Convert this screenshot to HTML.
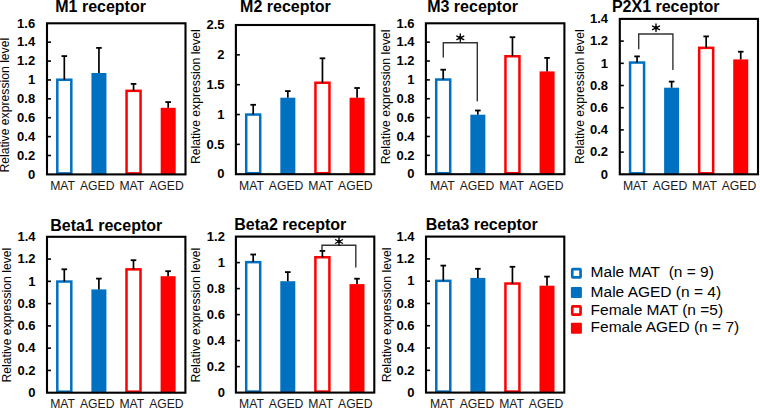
<!DOCTYPE html>
<html><head><meta charset="utf-8"><style>
html,body{margin:0;padding:0;background:#fff;}
svg{display:block;font-family:'Liberation Sans', sans-serif;}
</style></head><body>
<svg width="760" height="409" viewBox="0 0 760 409">
<rect width="760" height="409" fill="#fff"/>
<text x="55.25" y="12.00" font-size="16" font-weight="bold">M1 receptor</text>
<text transform="translate(9.00,105.20) rotate(-90)" text-anchor="middle" font-size="12.2">Relative expression level</text>
<text x="35.20" y="178.60" text-anchor="end" font-size="13" font-weight="bold">0</text>
<line x1="47" y1="155.51" x2="51" y2="155.51" stroke="#000" stroke-width="1.6"/>
<text x="35.20" y="159.71" text-anchor="end" font-size="13" font-weight="bold">0.2</text>
<line x1="47" y1="136.62" x2="51" y2="136.62" stroke="#000" stroke-width="1.6"/>
<text x="35.20" y="140.82" text-anchor="end" font-size="13" font-weight="bold">0.4</text>
<line x1="47" y1="117.74" x2="51" y2="117.74" stroke="#000" stroke-width="1.6"/>
<text x="35.20" y="121.94" text-anchor="end" font-size="13" font-weight="bold">0.6</text>
<line x1="47" y1="98.85" x2="51" y2="98.85" stroke="#000" stroke-width="1.6"/>
<text x="35.20" y="103.05" text-anchor="end" font-size="13" font-weight="bold">0.8</text>
<line x1="47" y1="79.96" x2="51" y2="79.96" stroke="#000" stroke-width="1.6"/>
<text x="35.20" y="84.16" text-anchor="end" font-size="13" font-weight="bold">1</text>
<line x1="47" y1="61.08" x2="51" y2="61.08" stroke="#000" stroke-width="1.6"/>
<text x="35.20" y="65.28" text-anchor="end" font-size="13" font-weight="bold">1.2</text>
<line x1="47" y1="42.19" x2="51" y2="42.19" stroke="#000" stroke-width="1.6"/>
<text x="35.20" y="46.39" text-anchor="end" font-size="13" font-weight="bold">1.4</text>
<text x="35.20" y="27.50" text-anchor="end" font-size="13" font-weight="bold">1.6</text>
<rect x="57.31" y="79.75" width="14.0" height="93.65" fill="#fff" stroke="#0070C0" stroke-width="2.5"/>
<line x1="64.31" y1="79.75" x2="64.31" y2="56.10" stroke="#000" stroke-width="1.7"/>
<line x1="61.51" y1="56.10" x2="67.11" y2="56.10" stroke="#000" stroke-width="1.8"/>
<text x="62.61" y="190.20" text-anchor="middle" font-size="12.2" fill="#1a1a1a">MAT</text>
<rect x="91.44" y="73.00" width="15.0" height="101.40" fill="#0070C0"/>
<line x1="98.94" y1="73.00" x2="98.94" y2="47.90" stroke="#000" stroke-width="1.7"/>
<line x1="96.14" y1="47.90" x2="101.74" y2="47.90" stroke="#000" stroke-width="1.8"/>
<text x="97.24" y="190.20" text-anchor="middle" font-size="12.2" fill="#1a1a1a">AGED</text>
<rect x="126.56" y="90.85" width="14.0" height="82.55" fill="#fff" stroke="#FF0000" stroke-width="2.5"/>
<line x1="133.56" y1="90.85" x2="133.56" y2="83.90" stroke="#000" stroke-width="1.7"/>
<line x1="130.76" y1="83.90" x2="136.36" y2="83.90" stroke="#000" stroke-width="1.8"/>
<text x="131.86" y="190.20" text-anchor="middle" font-size="12.2" fill="#1a1a1a">MAT</text>
<rect x="160.69" y="107.80" width="15.0" height="66.60" fill="#FF0000"/>
<line x1="168.19" y1="107.80" x2="168.19" y2="102.10" stroke="#000" stroke-width="1.7"/>
<line x1="165.39" y1="102.10" x2="170.99" y2="102.10" stroke="#000" stroke-width="1.8"/>
<text x="166.49" y="190.20" text-anchor="middle" font-size="12.2" fill="#1a1a1a">AGED</text>
<rect x="47" y="23.3" width="138.50" height="151.10" fill="none" stroke="#000" stroke-width="2.1"/>
<text x="240.10" y="11.90" font-size="16" font-weight="bold">M2 receptor</text>
<text transform="translate(199.90,96.70) rotate(-90)" text-anchor="middle" font-size="12.2">Relative expression level</text>
<text x="224.60" y="178.40" text-anchor="end" font-size="13" font-weight="bold">0</text>
<line x1="235.9" y1="144.36" x2="239.9" y2="144.36" stroke="#000" stroke-width="1.6"/>
<text x="224.60" y="148.56" text-anchor="end" font-size="13" font-weight="bold">0.5</text>
<line x1="235.9" y1="114.52" x2="239.9" y2="114.52" stroke="#000" stroke-width="1.6"/>
<text x="224.60" y="118.72" text-anchor="end" font-size="13" font-weight="bold">1</text>
<line x1="235.9" y1="84.68" x2="239.9" y2="84.68" stroke="#000" stroke-width="1.6"/>
<text x="224.60" y="88.88" text-anchor="end" font-size="13" font-weight="bold">1.5</text>
<line x1="235.9" y1="54.84" x2="239.9" y2="54.84" stroke="#000" stroke-width="1.6"/>
<text x="224.60" y="59.04" text-anchor="end" font-size="13" font-weight="bold">2</text>
<text x="224.60" y="29.20" text-anchor="end" font-size="13" font-weight="bold">2.5</text>
<rect x="246.21" y="114.55" width="14.0" height="58.65" fill="#fff" stroke="#0070C0" stroke-width="2.5"/>
<line x1="253.21" y1="114.55" x2="253.21" y2="104.80" stroke="#000" stroke-width="1.7"/>
<line x1="250.41" y1="104.80" x2="256.01" y2="104.80" stroke="#000" stroke-width="1.8"/>
<text x="251.51" y="190.20" text-anchor="middle" font-size="12.2" fill="#1a1a1a">MAT</text>
<rect x="280.34" y="97.70" width="15.0" height="76.50" fill="#0070C0"/>
<line x1="287.84" y1="97.70" x2="287.84" y2="91.10" stroke="#000" stroke-width="1.7"/>
<line x1="285.04" y1="91.10" x2="290.64" y2="91.10" stroke="#000" stroke-width="1.8"/>
<text x="286.14" y="190.20" text-anchor="middle" font-size="12.2" fill="#1a1a1a">AGED</text>
<rect x="315.46" y="82.75" width="14.0" height="90.45" fill="#fff" stroke="#FF0000" stroke-width="2.5"/>
<line x1="322.46" y1="82.75" x2="322.46" y2="58.30" stroke="#000" stroke-width="1.7"/>
<line x1="319.66" y1="58.30" x2="325.26" y2="58.30" stroke="#000" stroke-width="1.8"/>
<text x="320.76" y="190.20" text-anchor="middle" font-size="12.2" fill="#1a1a1a">MAT</text>
<rect x="349.59" y="97.70" width="15.0" height="76.50" fill="#FF0000"/>
<line x1="357.09" y1="97.70" x2="357.09" y2="88.00" stroke="#000" stroke-width="1.7"/>
<line x1="354.29" y1="88.00" x2="359.89" y2="88.00" stroke="#000" stroke-width="1.8"/>
<text x="355.39" y="190.20" text-anchor="middle" font-size="12.2" fill="#1a1a1a">AGED</text>
<rect x="235.9" y="25" width="138.50" height="149.20" fill="none" stroke="#000" stroke-width="2.1"/>
<text x="427.20" y="11.90" font-size="16" font-weight="bold">M3 receptor</text>
<text transform="translate(390.00,96.85) rotate(-90)" text-anchor="middle" font-size="12.2">Relative expression level</text>
<text x="414.50" y="178.40" text-anchor="end" font-size="13" font-weight="bold">0</text>
<line x1="425.9" y1="155.34" x2="429.9" y2="155.34" stroke="#000" stroke-width="1.6"/>
<text x="414.50" y="159.54" text-anchor="end" font-size="13" font-weight="bold">0.2</text>
<line x1="425.9" y1="136.47" x2="429.9" y2="136.47" stroke="#000" stroke-width="1.6"/>
<text x="414.50" y="140.67" text-anchor="end" font-size="13" font-weight="bold">0.4</text>
<line x1="425.9" y1="117.61" x2="429.9" y2="117.61" stroke="#000" stroke-width="1.6"/>
<text x="414.50" y="121.81" text-anchor="end" font-size="13" font-weight="bold">0.6</text>
<line x1="425.9" y1="98.75" x2="429.9" y2="98.75" stroke="#000" stroke-width="1.6"/>
<text x="414.50" y="102.95" text-anchor="end" font-size="13" font-weight="bold">0.8</text>
<line x1="425.9" y1="79.89" x2="429.9" y2="79.89" stroke="#000" stroke-width="1.6"/>
<text x="414.50" y="84.09" text-anchor="end" font-size="13" font-weight="bold">1</text>
<line x1="425.9" y1="61.02" x2="429.9" y2="61.02" stroke="#000" stroke-width="1.6"/>
<text x="414.50" y="65.22" text-anchor="end" font-size="13" font-weight="bold">1.2</text>
<line x1="425.9" y1="42.16" x2="429.9" y2="42.16" stroke="#000" stroke-width="1.6"/>
<text x="414.50" y="46.36" text-anchor="end" font-size="13" font-weight="bold">1.4</text>
<text x="414.50" y="27.50" text-anchor="end" font-size="13" font-weight="bold">1.6</text>
<rect x="436.21" y="79.55" width="14.0" height="93.65" fill="#fff" stroke="#0070C0" stroke-width="2.5"/>
<line x1="443.21" y1="79.55" x2="443.21" y2="69.70" stroke="#000" stroke-width="1.7"/>
<line x1="440.41" y1="69.70" x2="446.01" y2="69.70" stroke="#000" stroke-width="1.8"/>
<text x="442.31" y="190.20" text-anchor="middle" font-size="12.2" fill="#1a1a1a">MAT</text>
<rect x="470.34" y="114.70" width="15.0" height="59.50" fill="#0070C0"/>
<line x1="477.84" y1="114.70" x2="477.84" y2="110.50" stroke="#000" stroke-width="1.7"/>
<line x1="475.04" y1="110.50" x2="480.64" y2="110.50" stroke="#000" stroke-width="1.8"/>
<text x="476.94" y="190.20" text-anchor="middle" font-size="12.2" fill="#1a1a1a">AGED</text>
<rect x="505.46" y="56.25" width="14.0" height="116.95" fill="#fff" stroke="#FF0000" stroke-width="2.5"/>
<line x1="512.46" y1="56.25" x2="512.46" y2="37.20" stroke="#000" stroke-width="1.7"/>
<line x1="509.66" y1="37.20" x2="515.26" y2="37.20" stroke="#000" stroke-width="1.8"/>
<text x="511.56" y="190.20" text-anchor="middle" font-size="12.2" fill="#1a1a1a">MAT</text>
<rect x="539.59" y="71.40" width="15.0" height="102.80" fill="#FF0000"/>
<line x1="547.09" y1="71.40" x2="547.09" y2="57.90" stroke="#000" stroke-width="1.7"/>
<line x1="544.29" y1="57.90" x2="549.89" y2="57.90" stroke="#000" stroke-width="1.8"/>
<text x="546.19" y="190.20" text-anchor="middle" font-size="12.2" fill="#1a1a1a">AGED</text>
<rect x="425.9" y="23.3" width="138.50" height="150.90" fill="none" stroke="#000" stroke-width="2.1"/>
<polyline points="443.3,57.6 443.3,42.8 477.3,42.8 477.3,101.2" fill="none" stroke="#333" stroke-width="1.4"/>
<path d="M460.30,34.00L460.30,41.60M456.83,36.03L463.77,39.57M463.77,36.03L456.83,39.57" stroke="#000" stroke-width="1.35" stroke-linecap="round"/>
<circle cx="460.3" cy="37.8" r="1.7" fill="#000"/>
<text x="611.90" y="11.80" font-size="16" font-weight="bold">P2X1 receptor</text>
<text transform="translate(583.90,96.70) rotate(-90)" text-anchor="middle" font-size="12.2">Relative expression level</text>
<text x="608.10" y="178.50" text-anchor="end" font-size="13" font-weight="bold">0</text>
<line x1="619.8" y1="152.10" x2="623.8" y2="152.10" stroke="#000" stroke-width="1.6"/>
<text x="608.10" y="156.30" text-anchor="end" font-size="13" font-weight="bold">0.2</text>
<line x1="619.8" y1="129.90" x2="623.8" y2="129.90" stroke="#000" stroke-width="1.6"/>
<text x="608.10" y="134.10" text-anchor="end" font-size="13" font-weight="bold">0.4</text>
<line x1="619.8" y1="107.70" x2="623.8" y2="107.70" stroke="#000" stroke-width="1.6"/>
<text x="608.10" y="111.90" text-anchor="end" font-size="13" font-weight="bold">0.6</text>
<line x1="619.8" y1="85.50" x2="623.8" y2="85.50" stroke="#000" stroke-width="1.6"/>
<text x="608.10" y="89.70" text-anchor="end" font-size="13" font-weight="bold">0.8</text>
<line x1="619.8" y1="63.30" x2="623.8" y2="63.30" stroke="#000" stroke-width="1.6"/>
<text x="608.10" y="67.50" text-anchor="end" font-size="13" font-weight="bold">1</text>
<line x1="619.8" y1="41.10" x2="623.8" y2="41.10" stroke="#000" stroke-width="1.6"/>
<text x="608.10" y="45.30" text-anchor="end" font-size="13" font-weight="bold">1.2</text>
<text x="608.10" y="23.10" text-anchor="end" font-size="13" font-weight="bold">1.4</text>
<rect x="630.07" y="62.55" width="14.0" height="110.75" fill="#fff" stroke="#0070C0" stroke-width="2.5"/>
<line x1="637.07" y1="62.55" x2="637.07" y2="56.40" stroke="#000" stroke-width="1.7"/>
<line x1="634.27" y1="56.40" x2="639.87" y2="56.40" stroke="#000" stroke-width="1.8"/>
<text x="635.37" y="190.20" text-anchor="middle" font-size="12.2" fill="#1a1a1a">MAT</text>
<rect x="664.12" y="87.70" width="15.0" height="86.60" fill="#0070C0"/>
<line x1="671.62" y1="87.70" x2="671.62" y2="81.60" stroke="#000" stroke-width="1.7"/>
<line x1="668.83" y1="81.60" x2="674.42" y2="81.60" stroke="#000" stroke-width="1.8"/>
<text x="669.92" y="190.20" text-anchor="middle" font-size="12.2" fill="#1a1a1a">AGED</text>
<rect x="699.17" y="47.85" width="14.0" height="125.45" fill="#fff" stroke="#FF0000" stroke-width="2.5"/>
<line x1="706.17" y1="47.85" x2="706.17" y2="36.40" stroke="#000" stroke-width="1.7"/>
<line x1="703.38" y1="36.40" x2="708.97" y2="36.40" stroke="#000" stroke-width="1.8"/>
<text x="704.47" y="190.20" text-anchor="middle" font-size="12.2" fill="#1a1a1a">MAT</text>
<rect x="733.23" y="59.40" width="15.0" height="114.90" fill="#FF0000"/>
<line x1="740.73" y1="59.40" x2="740.73" y2="51.70" stroke="#000" stroke-width="1.7"/>
<line x1="737.93" y1="51.70" x2="743.52" y2="51.70" stroke="#000" stroke-width="1.8"/>
<text x="739.02" y="190.20" text-anchor="middle" font-size="12.2" fill="#1a1a1a">AGED</text>
<rect x="619.8" y="18.9" width="138.20" height="155.40" fill="none" stroke="#000" stroke-width="2.1"/>
<polyline points="638.7,49.2 638.7,34.0 672.9,34.0 672.9,69.9" fill="none" stroke="#333" stroke-width="1.4"/>
<path d="M656.00,24.00L656.00,31.60M652.53,26.03L659.47,29.57M659.47,26.03L652.53,29.57" stroke="#000" stroke-width="1.35" stroke-linecap="round"/>
<circle cx="656.0" cy="27.8" r="1.7" fill="#000"/>
<text x="50.20" y="230.50" font-size="16" font-weight="bold">Beta1 receptor</text>
<text transform="translate(11.30,315.15) rotate(-90)" text-anchor="middle" font-size="12.2">Relative expression level</text>
<text x="35.50" y="396.90" text-anchor="end" font-size="13" font-weight="bold">0</text>
<line x1="47" y1="370.43" x2="51" y2="370.43" stroke="#000" stroke-width="1.6"/>
<text x="35.50" y="374.63" text-anchor="end" font-size="13" font-weight="bold">0.2</text>
<line x1="47" y1="348.16" x2="51" y2="348.16" stroke="#000" stroke-width="1.6"/>
<text x="35.50" y="352.36" text-anchor="end" font-size="13" font-weight="bold">0.4</text>
<line x1="47" y1="325.89" x2="51" y2="325.89" stroke="#000" stroke-width="1.6"/>
<text x="35.50" y="330.09" text-anchor="end" font-size="13" font-weight="bold">0.6</text>
<line x1="47" y1="303.61" x2="51" y2="303.61" stroke="#000" stroke-width="1.6"/>
<text x="35.50" y="307.81" text-anchor="end" font-size="13" font-weight="bold">0.8</text>
<line x1="47" y1="281.34" x2="51" y2="281.34" stroke="#000" stroke-width="1.6"/>
<text x="35.50" y="285.54" text-anchor="end" font-size="13" font-weight="bold">1</text>
<line x1="47" y1="259.07" x2="51" y2="259.07" stroke="#000" stroke-width="1.6"/>
<text x="35.50" y="263.27" text-anchor="end" font-size="13" font-weight="bold">1.2</text>
<text x="35.50" y="241.00" text-anchor="end" font-size="13" font-weight="bold">1.4</text>
<rect x="57.30" y="281.55" width="14.0" height="110.15" fill="#fff" stroke="#0070C0" stroke-width="2.5"/>
<line x1="64.30" y1="281.55" x2="64.30" y2="269.30" stroke="#000" stroke-width="1.7"/>
<line x1="61.50" y1="269.30" x2="67.10" y2="269.30" stroke="#000" stroke-width="1.8"/>
<text x="62.60" y="407.70" text-anchor="middle" font-size="12.2" fill="#1a1a1a">MAT</text>
<rect x="91.40" y="289.40" width="15.0" height="103.30" fill="#0070C0"/>
<line x1="98.90" y1="289.40" x2="98.90" y2="278.60" stroke="#000" stroke-width="1.7"/>
<line x1="96.10" y1="278.60" x2="101.70" y2="278.60" stroke="#000" stroke-width="1.8"/>
<text x="97.20" y="407.70" text-anchor="middle" font-size="12.2" fill="#1a1a1a">AGED</text>
<rect x="126.50" y="269.35" width="14.0" height="122.35" fill="#fff" stroke="#FF0000" stroke-width="2.5"/>
<line x1="133.50" y1="269.35" x2="133.50" y2="260.20" stroke="#000" stroke-width="1.7"/>
<line x1="130.70" y1="260.20" x2="136.30" y2="260.20" stroke="#000" stroke-width="1.8"/>
<text x="131.80" y="407.70" text-anchor="middle" font-size="12.2" fill="#1a1a1a">MAT</text>
<rect x="160.60" y="276.20" width="15.0" height="116.50" fill="#FF0000"/>
<line x1="168.10" y1="276.20" x2="168.10" y2="271.20" stroke="#000" stroke-width="1.7"/>
<line x1="165.30" y1="271.20" x2="170.90" y2="271.20" stroke="#000" stroke-width="1.8"/>
<text x="166.40" y="407.70" text-anchor="middle" font-size="12.2" fill="#1a1a1a">AGED</text>
<rect x="47" y="236.8" width="138.40" height="155.90" fill="none" stroke="#000" stroke-width="2.1"/>
<text x="234.30" y="230.00" font-size="16" font-weight="bold">Beta2 receptor</text>
<text transform="translate(200.20,315.10) rotate(-90)" text-anchor="middle" font-size="12.2">Relative expression level</text>
<text x="224.90" y="396.80" text-anchor="end" font-size="13" font-weight="bold">0</text>
<line x1="235.9" y1="366.60" x2="239.9" y2="366.60" stroke="#000" stroke-width="1.6"/>
<text x="224.90" y="370.80" text-anchor="end" font-size="13" font-weight="bold">0.2</text>
<line x1="235.9" y1="340.60" x2="239.9" y2="340.60" stroke="#000" stroke-width="1.6"/>
<text x="224.90" y="344.80" text-anchor="end" font-size="13" font-weight="bold">0.4</text>
<line x1="235.9" y1="314.60" x2="239.9" y2="314.60" stroke="#000" stroke-width="1.6"/>
<text x="224.90" y="318.80" text-anchor="end" font-size="13" font-weight="bold">0.6</text>
<line x1="235.9" y1="288.60" x2="239.9" y2="288.60" stroke="#000" stroke-width="1.6"/>
<text x="224.90" y="292.80" text-anchor="end" font-size="13" font-weight="bold">0.8</text>
<line x1="235.9" y1="262.60" x2="239.9" y2="262.60" stroke="#000" stroke-width="1.6"/>
<text x="224.90" y="266.80" text-anchor="end" font-size="13" font-weight="bold">1</text>
<text x="224.90" y="240.80" text-anchor="end" font-size="13" font-weight="bold">1.2</text>
<rect x="246.20" y="262.15" width="14.0" height="129.45" fill="#fff" stroke="#0070C0" stroke-width="2.5"/>
<line x1="253.20" y1="262.15" x2="253.20" y2="254.50" stroke="#000" stroke-width="1.7"/>
<line x1="250.40" y1="254.50" x2="256.00" y2="254.50" stroke="#000" stroke-width="1.8"/>
<text x="251.50" y="407.70" text-anchor="middle" font-size="12.2" fill="#1a1a1a">MAT</text>
<rect x="280.30" y="281.20" width="15.0" height="111.40" fill="#0070C0"/>
<line x1="287.80" y1="281.20" x2="287.80" y2="272.10" stroke="#000" stroke-width="1.7"/>
<line x1="285.00" y1="272.10" x2="290.60" y2="272.10" stroke="#000" stroke-width="1.8"/>
<text x="286.10" y="407.70" text-anchor="middle" font-size="12.2" fill="#1a1a1a">AGED</text>
<rect x="315.40" y="257.25" width="14.0" height="134.35" fill="#fff" stroke="#FF0000" stroke-width="2.5"/>
<line x1="322.40" y1="257.25" x2="322.40" y2="250.90" stroke="#000" stroke-width="1.7"/>
<line x1="319.60" y1="250.90" x2="325.20" y2="250.90" stroke="#000" stroke-width="1.8"/>
<text x="320.70" y="407.70" text-anchor="middle" font-size="12.2" fill="#1a1a1a">MAT</text>
<rect x="349.50" y="284.10" width="15.0" height="108.50" fill="#FF0000"/>
<line x1="357.00" y1="284.10" x2="357.00" y2="278.70" stroke="#000" stroke-width="1.7"/>
<line x1="354.20" y1="278.70" x2="359.80" y2="278.70" stroke="#000" stroke-width="1.8"/>
<text x="355.30" y="407.70" text-anchor="middle" font-size="12.2" fill="#1a1a1a">AGED</text>
<rect x="235.9" y="236.6" width="138.40" height="156.00" fill="none" stroke="#000" stroke-width="2.1"/>
<polyline points="322,250.5 322,245.3 355.8,245.3 355.8,267.6" fill="none" stroke="#333" stroke-width="1.4"/>
<path d="M339.00,237.70L339.00,245.30M335.53,239.73L342.47,243.27M342.47,239.73L335.53,243.27" stroke="#000" stroke-width="1.35" stroke-linecap="round"/>
<circle cx="339" cy="241.5" r="1.7" fill="#000"/>
<text x="425.70" y="230.00" font-size="16" font-weight="bold">Beta3 receptor</text>
<text transform="translate(390.60,314.90) rotate(-90)" text-anchor="middle" font-size="12.2">Relative expression level</text>
<text x="414.60" y="396.80" text-anchor="end" font-size="13" font-weight="bold">0</text>
<line x1="426" y1="370.31" x2="430" y2="370.31" stroke="#000" stroke-width="1.6"/>
<text x="414.60" y="374.51" text-anchor="end" font-size="13" font-weight="bold">0.2</text>
<line x1="426" y1="348.03" x2="430" y2="348.03" stroke="#000" stroke-width="1.6"/>
<text x="414.60" y="352.23" text-anchor="end" font-size="13" font-weight="bold">0.4</text>
<line x1="426" y1="325.74" x2="430" y2="325.74" stroke="#000" stroke-width="1.6"/>
<text x="414.60" y="329.94" text-anchor="end" font-size="13" font-weight="bold">0.6</text>
<line x1="426" y1="303.46" x2="430" y2="303.46" stroke="#000" stroke-width="1.6"/>
<text x="414.60" y="307.66" text-anchor="end" font-size="13" font-weight="bold">0.8</text>
<line x1="426" y1="281.17" x2="430" y2="281.17" stroke="#000" stroke-width="1.6"/>
<text x="414.60" y="285.37" text-anchor="end" font-size="13" font-weight="bold">1</text>
<line x1="426" y1="258.89" x2="430" y2="258.89" stroke="#000" stroke-width="1.6"/>
<text x="414.60" y="263.09" text-anchor="end" font-size="13" font-weight="bold">1.2</text>
<text x="414.60" y="240.80" text-anchor="end" font-size="13" font-weight="bold">1.4</text>
<rect x="436.29" y="280.85" width="14.0" height="110.75" fill="#fff" stroke="#0070C0" stroke-width="2.5"/>
<line x1="443.29" y1="280.85" x2="443.29" y2="265.60" stroke="#000" stroke-width="1.7"/>
<line x1="440.49" y1="265.60" x2="446.09" y2="265.60" stroke="#000" stroke-width="1.8"/>
<text x="442.39" y="407.70" text-anchor="middle" font-size="12.2" fill="#1a1a1a">MAT</text>
<rect x="470.36" y="277.90" width="15.0" height="114.70" fill="#0070C0"/>
<line x1="477.86" y1="277.90" x2="477.86" y2="268.80" stroke="#000" stroke-width="1.7"/>
<line x1="475.06" y1="268.80" x2="480.66" y2="268.80" stroke="#000" stroke-width="1.8"/>
<text x="476.96" y="407.70" text-anchor="middle" font-size="12.2" fill="#1a1a1a">AGED</text>
<rect x="505.44" y="283.55" width="14.0" height="108.05" fill="#fff" stroke="#FF0000" stroke-width="2.5"/>
<line x1="512.44" y1="283.55" x2="512.44" y2="266.80" stroke="#000" stroke-width="1.7"/>
<line x1="509.64" y1="266.80" x2="515.24" y2="266.80" stroke="#000" stroke-width="1.8"/>
<text x="511.54" y="407.70" text-anchor="middle" font-size="12.2" fill="#1a1a1a">MAT</text>
<rect x="539.51" y="285.70" width="15.0" height="106.90" fill="#FF0000"/>
<line x1="547.01" y1="285.70" x2="547.01" y2="276.60" stroke="#000" stroke-width="1.7"/>
<line x1="544.21" y1="276.60" x2="549.81" y2="276.60" stroke="#000" stroke-width="1.8"/>
<text x="546.11" y="407.70" text-anchor="middle" font-size="12.2" fill="#1a1a1a">AGED</text>
<rect x="426" y="236.6" width="138.30" height="156.00" fill="none" stroke="#000" stroke-width="2.1"/>
<rect x="572.25" y="269.15" width="8.3" height="8.3" rx="0.6" fill="#fff" stroke="#0070C0" stroke-width="2.7"/>
<text x="590.6" y="277.40" font-size="15.5">Male MAT&#160; (n = 9)</text>
<rect x="570.9" y="287.00" width="11" height="11" rx="1" fill="#0070C0"/>
<text x="590.6" y="296.60" font-size="15.5">Male AGED (n = 4)</text>
<rect x="572.25" y="306.35" width="8.3" height="8.3" rx="0.6" fill="#fff" stroke="#FF0000" stroke-width="2.7"/>
<text x="590.6" y="314.60" font-size="15.5">Female MAT (n =5)</text>
<rect x="570.9" y="322.80" width="11" height="11" rx="1" fill="#FF0000"/>
<text x="590.6" y="332.40" font-size="15.5">Female AGED (n = 7)</text>
</svg>
</body></html>
